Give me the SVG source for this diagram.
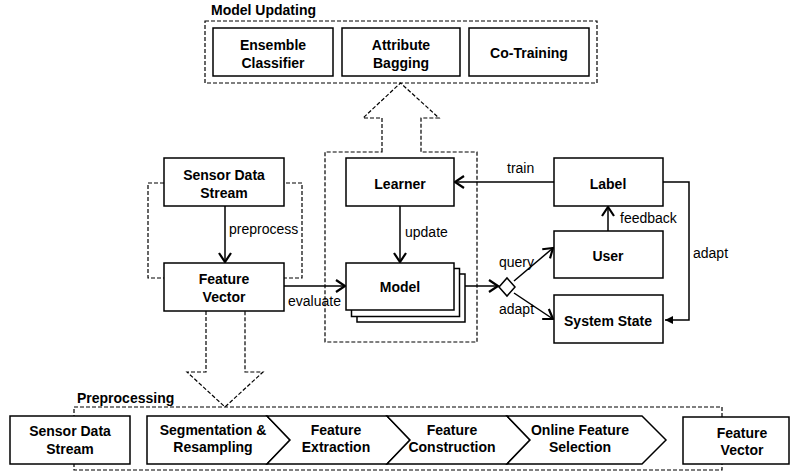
<svg xmlns="http://www.w3.org/2000/svg" width="790" height="472" viewBox="0 0 790 472">
<style>
.box{fill:#fff;stroke:#000;stroke-width:1.5}
.dash{fill:none;stroke:#000;stroke-width:1.2;stroke-dasharray:4,2}
.ln{fill:none;stroke:#000;stroke-width:1.5}
.b{font-family:"Liberation Sans",Arial,sans-serif;font-weight:bold;font-size:14px;text-anchor:middle;fill:#000}
.r{font-family:"Liberation Sans",Arial,sans-serif;font-size:14px;fill:#000}
</style>
<defs>
<marker id="v" markerUnits="userSpaceOnUse" markerWidth="14" markerHeight="16" refX="10" refY="7" orient="auto">
<path d="M1,1 L10,7 L1,13" fill="none" stroke="#000" stroke-width="2.2"/>
</marker>
<marker id="tri" markerUnits="userSpaceOnUse" markerWidth="10" markerHeight="10" refX="8" refY="4" orient="auto">
<path d="M0,0 L8,4 L0,8 Z" fill="#000"/>
</marker>
</defs>

<!-- Model Updating group -->
<g id="model-updating">
<text class="b" x="211" y="15" style="text-anchor:start">Model Updating</text>
<rect class="dash" x="205" y="21" width="392" height="62"/>
</g>
<g id="ensemble"><rect class="box" x="213" y="28" width="120" height="48"/><text class="b" x="273" y="50">Ensemble</text><text class="b" x="273" y="68">Classifier</text></g>
<g id="bagging"><rect class="box" x="342" y="28" width="118" height="48"/><text class="b" x="401" y="50">Attribute</text><text class="b" x="401" y="68">Bagging</text></g>
<g id="cotraining"><rect class="box" x="469" y="28" width="120" height="48"/><text class="b" x="529" y="58">Co-Training</text></g>

<!-- learner container with up arrow -->
<g id="learner-container">
<path class="dash" d="M382,152 L382,118 L363,118 L400.5,83 L439,118 L421,118 L421,152 L477,152 L477,342 L325,342 L325,152 Z"/>
</g>

<!-- sensor/feature container -->
<g id="sensor-container">
<rect class="dash" x="148" y="183" width="154" height="95"/>
<path class="dash" d="M206,311 L206,372 L187,372 L225,407 L263,372 L245,372 L245,311"/>
</g>

<!-- preprocessing -->
<g id="preprocessing">
<text class="b" x="77" y="403" style="text-anchor:start">Preprocessing</text>
<rect class="dash" x="74" y="407" width="648" height="63"/>
</g>

<g id="connectors">
<line class="ln" x1="225" y1="206" x2="225" y2="262" marker-end="url(#v)"/>
<line class="ln" x1="400" y1="206" x2="400" y2="262" marker-end="url(#v)"/>
<line class="ln" x1="284" y1="286" x2="345" y2="286" marker-end="url(#v)"/>
<line class="ln" x1="454" y1="286" x2="498" y2="286" marker-end="url(#v)"/>
<line class="ln" x1="554" y1="182" x2="455" y2="182" marker-end="url(#v)"/>
<line class="ln" x1="608" y1="231" x2="608" y2="207" marker-end="url(#v)"/>
<line class="ln" x1="514" y1="281" x2="553" y2="248" marker-end="url(#v)"/>
<line class="ln" x1="514" y1="293" x2="553" y2="319" marker-end="url(#v)"/>
<polyline class="ln" points="663,182 689,182 689,320 665,320" marker-end="url(#tri)"/>
<polygon class="box" points="499,287 507,278 515,287 507,296"/>
</g>

<g id="labels">
<text class="r" x="229" y="234">preprocess</text>
<text class="r" x="405" y="237">update</text>
<text class="r" x="288" y="306">evaluate</text>
<text class="r" x="507" y="173">train</text>
<text class="r" x="620" y="223">feedback</text>
<text class="r" x="499" y="267">query</text>
<text class="r" x="499" y="314">adapt</text>
<text class="r" x="693" y="258">adapt</text>
</g>

<g id="sensor"><rect class="box" x="164" y="158" width="120" height="48"/><text class="b" x="224" y="180">Sensor Data</text><text class="b" x="224" y="198">Stream</text></g>
<g id="feature"><rect class="box" x="164" y="263" width="120" height="48"/><text class="b" x="224" y="284">Feature</text><text class="b" x="224" y="302">Vector</text></g>
<g id="learner"><rect class="box" x="346" y="158" width="108" height="48"/><text class="b" x="400" y="189">Learner</text></g>
<g id="model">
<rect class="box" x="357" y="274" width="108" height="48"/>
<rect class="box" x="351.5" y="268.5" width="108" height="48"/>
<rect class="box" x="346" y="263" width="108" height="47"/>
<text class="b" x="400" y="292">Model</text>
</g>
<g id="label"><rect class="box" x="554" y="158" width="109" height="48"/><text class="b" x="608" y="189">Label</text></g>
<g id="user"><rect class="box" x="554" y="231" width="109" height="47"/><text class="b" x="608" y="261">User</text></g>
<g id="system-state"><rect class="box" x="554" y="295" width="109" height="48"/><text class="b" x="608" y="326">System State</text></g>

<g id="pre-sensor"><rect class="box" x="10" y="416" width="120" height="48"/><text class="b" x="70" y="436">Sensor Data</text><text class="b" x="70" y="454">Stream</text></g>
<g id="seg"><polygon class="box" points="147,416 267,416 290,440 267,464 147,464"/><text class="b" x="213" y="435">Segmentation &amp;</text><text class="b" x="213" y="452">Resampling</text></g>
<g id="extract"><polygon class="box" points="267,416 387,416 410,440 387,464 267,464 290,440"/><text class="b" x="336" y="435">Feature</text><text class="b" x="336" y="452">Extraction</text></g>
<g id="construct"><polygon class="box" points="387,416 507,416 530,440 507,464 387,464 410,440"/><text class="b" x="452" y="435">Feature</text><text class="b" x="452" y="452">Construction</text></g>
<g id="select"><polygon class="box" points="507,416 642,416 666,440 642,464 507,464 530,440"/><text class="b" x="580" y="435">Online Feature</text><text class="b" x="580" y="452">Selection</text></g>
<g id="pre-feature"><rect class="box" x="683" y="417" width="106" height="47"/><text class="b" x="742" y="438">Feature</text><text class="b" x="742" y="455">Vector</text></g>
</svg>
